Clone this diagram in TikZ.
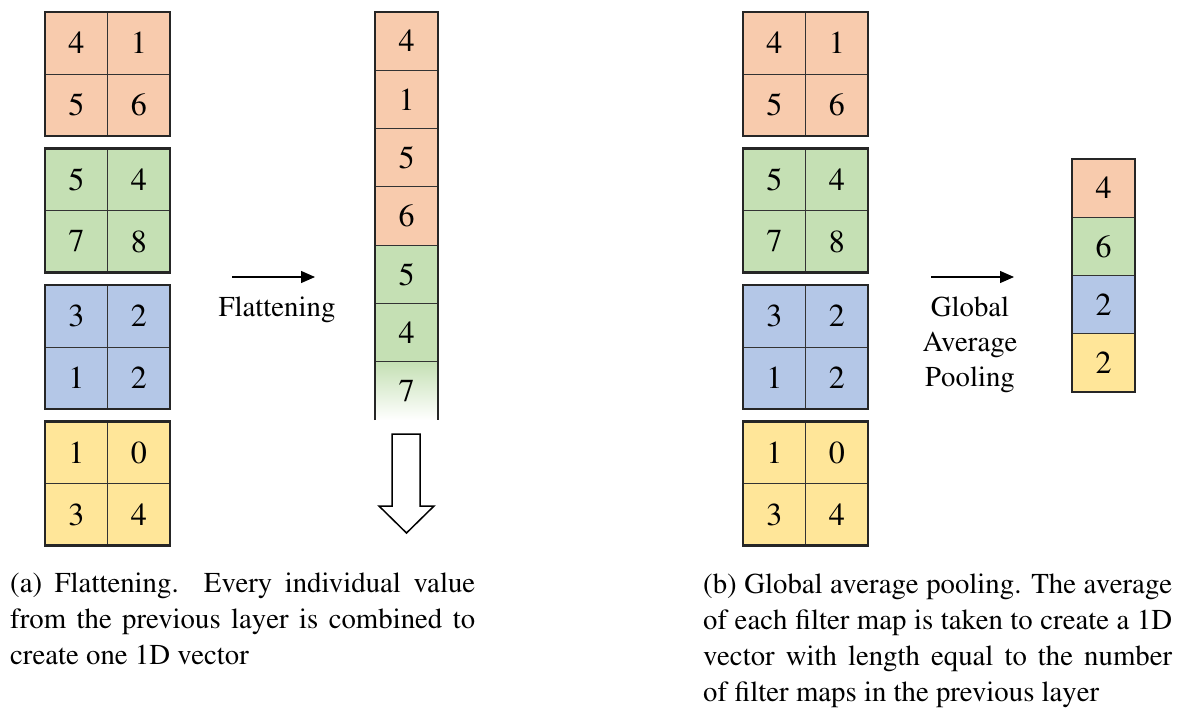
\documentclass[tikz,border=0pt]{standalone}
\usepackage[T1]{fontenc}
\usepackage{times}
\usetikzlibrary{arrows.meta}
\definecolor{cor}{HTML}{F8CBAD}
\definecolor{cgr}{HTML}{C5E0B4}
\definecolor{cbl}{HTML}{B4C7E7}
\definecolor{cye}{HTML}{FFE699}
\newcommand{\fmap}[8]{%
  \node[cell,fill=#4,anchor=north west] (#1a) at (#2,#3) {#5};
  \node[cell,fill=#4,anchor=north west] (#1b) at (#1a.north east) {#6};
  \node[cell,fill=#4,anchor=north west] (#1c) at (#1a.south west) {#7};
  \node[cell,fill=#4,anchor=north west] (#1d) at (#1a.south east) {#8};
  \draw[frame] (#1a.north west) rectangle (#1d.south east);
}
\begin{document}
\begin{tikzpicture}[x=1pt,y=-1pt,
  cell/.style={draw=black!80, line width=0.9pt, minimum width=62.5pt, minimum height=62pt,
    inner sep=0pt, outer sep=0pt, font=\fontsize{32}{32}\selectfont},
  vcell/.style={cell, minimum width=63pt, minimum height=58.3pt},
  pcell/.style={cell, minimum width=63pt, minimum height=58.25pt},
  frame/.style={draw=black!85, line width=2.4pt},
  flow/.style={-{Triangle[length=14pt,width=12pt]}, line width=1.3pt},
  lbl/.style={font=\fontsize{28.8}{35}\selectfont, align=center, inner sep=0pt},
  captext/.style={anchor=base west, inner sep=0pt, font=\fontsize{28.8}{36}\selectfont}]
\useasboundingbox (0,0) rectangle (1182,709);

% ---------- (a) left filter maps
\fmap{la}{45}{12}{cor}{4}{1}{5}{6}
\fmap{lb}{45}{148.5}{cgr}{5}{4}{7}{8}
\fmap{lc}{45}{285}{cbl}{3}{2}{1}{2}
\fmap{ld}{45}{421.5}{cye}{1}{0}{3}{4}

% ---------- flattened vector
\node[vcell,fill=cor,anchor=north west] (f1) at (375,12) {4};
\node[vcell,fill=cor,anchor=north] (f2) at (f1.south) {1};
\node[vcell,fill=cor,anchor=north] (f3) at (f2.south) {5};
\node[vcell,fill=cor,anchor=north] (f4) at (f3.south) {6};
\node[vcell,fill=cgr,anchor=north] (f5) at (f4.south) {5};
\node[vcell,fill=cgr,anchor=north] (f6) at (f5.south) {4};
\node[vcell,draw=none,top color=cgr,bottom color=white,anchor=north] (f7) at (f6.south) {7};
\draw[black!80,line width=0.9pt] (f6.south west) -- (f6.south east);
\draw[frame] (f7.south west) -- (f1.north west) -- (f1.north east) -- (f7.south east);

% flatten arrow
\coordinate (a1s) at (232,277);
\coordinate (a1e) at (315,277);
\draw[flow] (a1s) -- (a1e);
\node[lbl] (t1) at (277,310) {Flattening};

% hollow down arrow
\draw[line width=1.5pt, fill=white, line join=miter]
  (392,434) -- (420,434) -- (420,506) -- (434,506) -- (406.5,533) -- (379,506) -- (392,506) -- cycle;

% ---------- (b) right filter maps
\fmap{ra}{743}{12}{cor}{4}{1}{5}{6}
\fmap{rb}{743}{148.5}{cgr}{5}{4}{7}{8}
\fmap{rc}{743}{285}{cbl}{3}{2}{1}{2}
\fmap{rd}{743}{421.5}{cye}{1}{0}{3}{4}

% pooled vector
\node[pcell,fill=cor,anchor=north west] (p1) at (1072,159) {4};
\node[pcell,fill=cgr,anchor=north] (p2) at (p1.south) {6};
\node[pcell,fill=cbl,anchor=north] (p3) at (p2.south) {2};
\node[pcell,fill=cye,anchor=north] (p4) at (p3.south) {2};
\draw[frame] (p1.north west) rectangle (p4.south east);

% pooling arrow
\coordinate (a2s) at (931,277);
\coordinate (a2e) at (1014,277);
\draw[flow] (a2s) -- (a2e);
\node[lbl] (t2) at (970,345) {Global\\Average\\Pooling};

% ---------- captions
\node[captext] (capa) at (10,592) {\parbox[t]{465pt}{%
  \makebox[465pt][s]{(a) Flattening.\ \ Every individual value}\\
  \makebox[465pt][s]{from the previous layer is combined to}\\
  create one 1D vector}};
\node[captext] (capb) at (703,593) {\parbox[t]{469pt}{%
  \makebox[469pt][s]{(b) Global average pooling. The average}\\
  \makebox[469pt][s]{of each filter map is taken to create a 1D}\\
  \makebox[469pt][s]{vector with length equal to the number}\\
  of filter maps in the previous layer}};
\end{tikzpicture}
\end{document}
